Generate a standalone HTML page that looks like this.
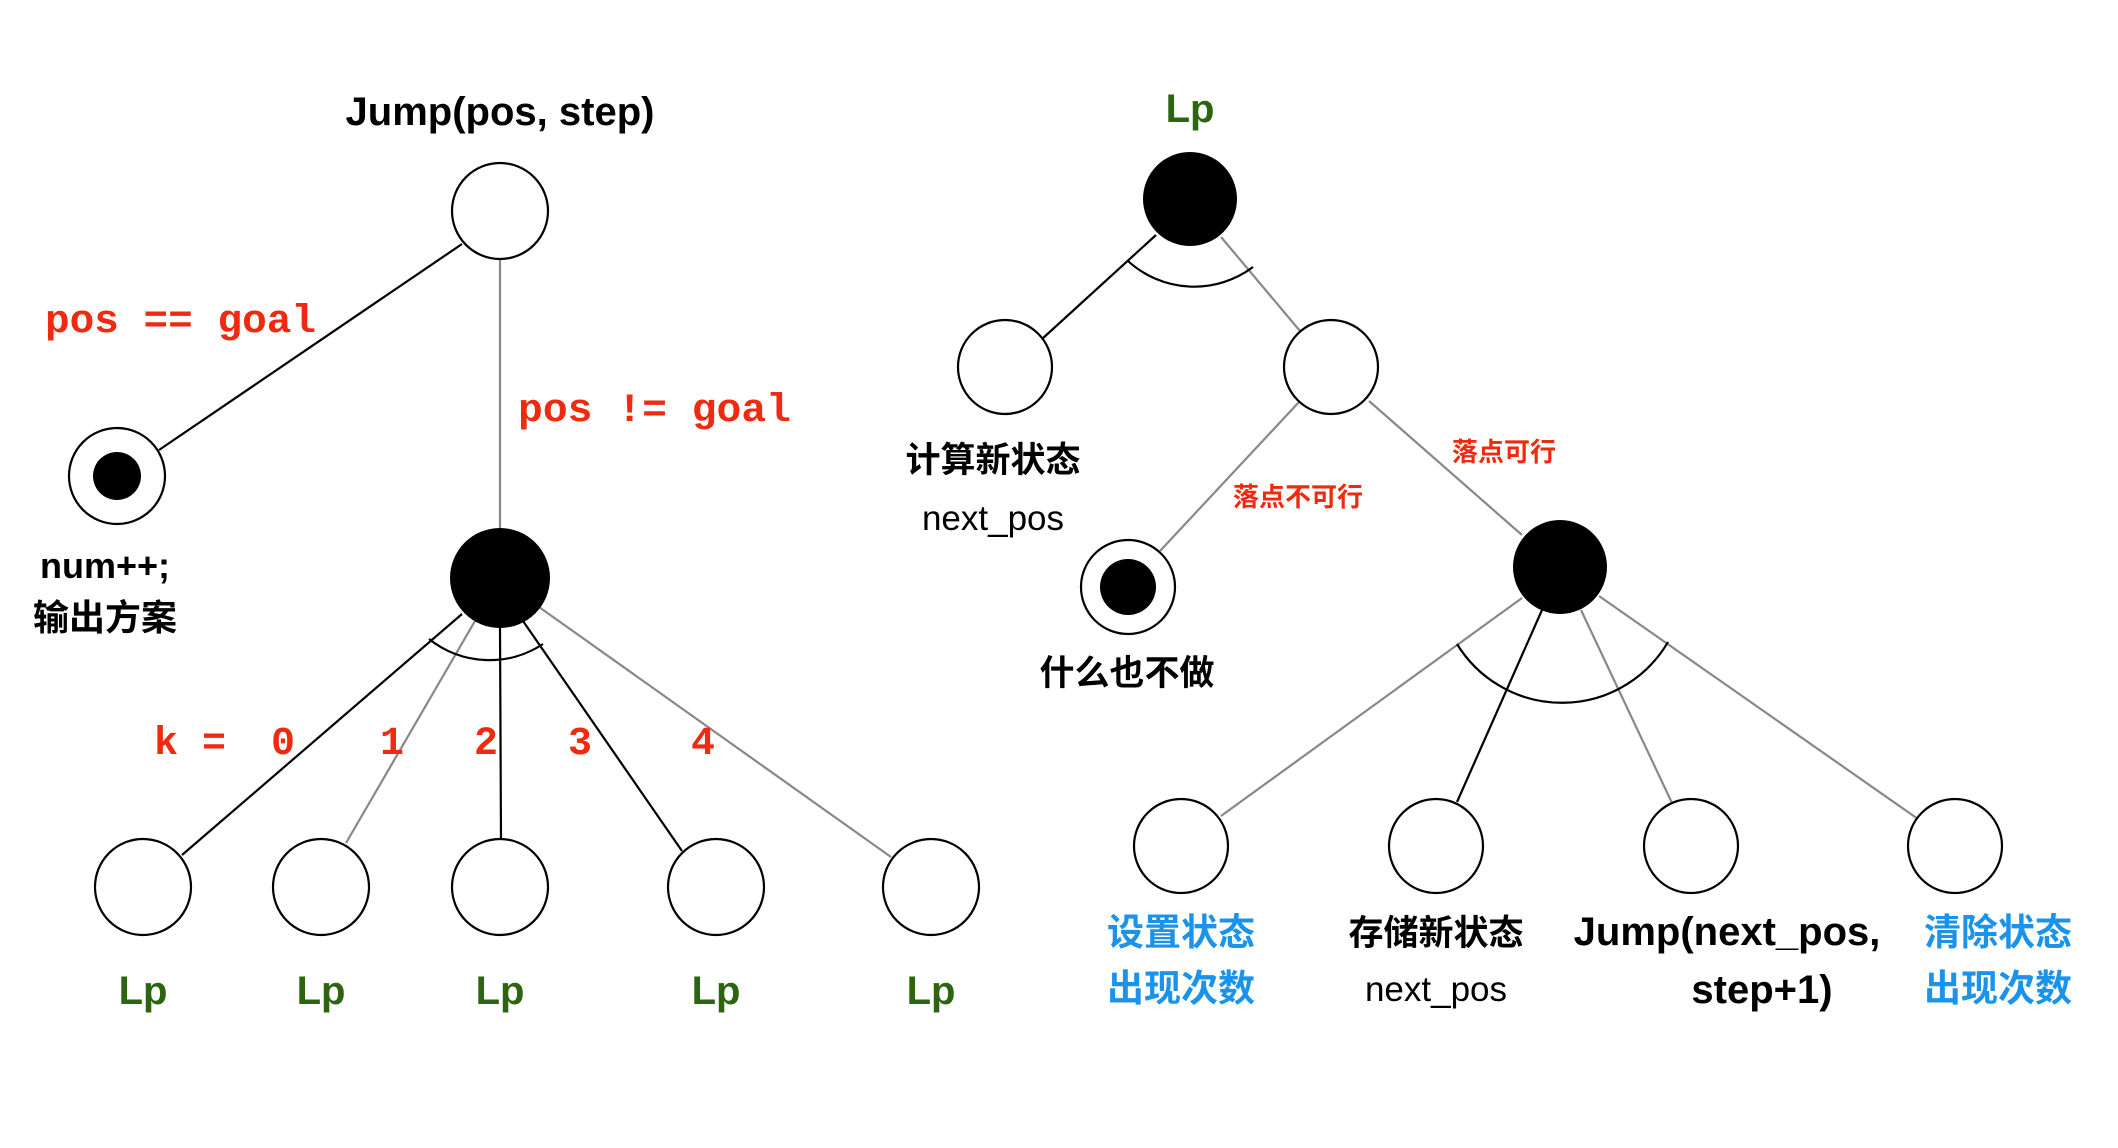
<!DOCTYPE html>
<html><head><meta charset="utf-8"><style>
html,body{margin:0;padding:0;background:#fff;}
svg{display:block}
.b{font-family:"Liberation Sans","Noto Sans CJK SC",sans-serif;font-weight:bold;}
.m{font-family:"Liberation Mono",monospace;font-weight:bold;fill:#ee2a10;}
.g{fill:#2c6410}
.bl{fill:#1b93ea}
</style></head><body>
<svg width="2118" height="1148" viewBox="0 0 2118 1148" xmlns="http://www.w3.org/2000/svg">
<g stroke-width="2.2" fill="none">
<!-- left tree lines -->
<line x1="462" y1="244" x2="159" y2="450" stroke="#000"/>
<line x1="500" y1="259" x2="500" y2="528" stroke="#888"/>
<line x1="462" y1="614" x2="182" y2="855" stroke="#000"/>
<line x1="475" y1="621" x2="346" y2="843" stroke="#888"/>
<line x1="500" y1="628" x2="501" y2="839" stroke="#000"/>
<line x1="523" y1="621" x2="682" y2="851" stroke="#000"/>
<line x1="539" y1="607" x2="891" y2="857" stroke="#888"/>
<path d="M429 639 A97 97 0 0 0 543 644" stroke="#000"/>
<!-- right tree lines -->
<line x1="1156" y1="235" x2="1042" y2="339" stroke="#000"/>
<line x1="1221" y1="237" x2="1300" y2="331" stroke="#888"/>
<path d="M1128 261 A98 98 0 0 0 1253 267" stroke="#000"/>
<line x1="1299" y1="402" x2="1160" y2="551" stroke="#888"/>
<line x1="1369" y1="401" x2="1522" y2="535" stroke="#888"/>
<line x1="1522" y1="598" x2="1221" y2="816" stroke="#888"/>
<line x1="1542" y1="610" x2="1457" y2="802" stroke="#000"/>
<line x1="1581" y1="610" x2="1672" y2="803" stroke="#888"/>
<line x1="1599" y1="596" x2="1918" y2="819" stroke="#888"/>
<path d="M1457 644 A123 123 0 0 0 1668 642" stroke="#000"/>
</g>
<g stroke="#000" stroke-width="2.2" fill="#fff">
<circle cx="500" cy="211" r="48"/>
<circle cx="117" cy="476" r="48"/>
<circle cx="143" cy="887" r="48"/>
<circle cx="321" cy="887" r="48"/>
<circle cx="500" cy="887" r="48"/>
<circle cx="716" cy="887" r="48"/>
<circle cx="931" cy="887" r="48"/>
<circle cx="1005" cy="367" r="47"/>
<circle cx="1331" cy="367" r="47"/>
<circle cx="1128" cy="587" r="47"/>
<circle cx="1181" cy="846" r="47"/>
<circle cx="1436" cy="846" r="47"/>
<circle cx="1691" cy="846" r="47"/>
<circle cx="1955" cy="846" r="47"/>
</g>
<g fill="#000">
<circle cx="117" cy="476" r="24"/>
<circle cx="500" cy="578" r="50"/>
<circle cx="1190" cy="199" r="47"/>
<circle cx="1128" cy="587" r="28"/>
<circle cx="1560" cy="567" r="47"/>
</g>
<g class="b" text-anchor="middle" font-size="40">
<text x="500" y="125">Jump(pos, step)</text>
<text x="105" y="578" font-size="36">num++;</text>
<text x="105" y="630" font-size="36">输出方案</text>
<text class="g" x="143" y="1004">Lp</text>
<text class="g" x="321" y="1004">Lp</text>
<text class="g" x="500" y="1004">Lp</text>
<text class="g" x="716" y="1004">Lp</text>
<text class="g" x="931" y="1004">Lp</text>
<text class="g" x="1190" y="122">Lp</text>
<text x="993" y="472" font-size="35">计算新状态</text>
<text x="993" y="530" font-size="35" font-weight="normal">next_pos</text>
<text x="1127" y="685" font-size="35">什么也不做</text>
<text fill="#ee2a10" x="1298" y="506" font-size="26">落点不可行</text>
<text fill="#ee2a10" x="1504" y="461" font-size="26">落点可行</text>
<text class="bl" x="1181" y="945" font-size="37">设置状态</text>
<text class="bl" x="1181" y="1001" font-size="37">出现次数</text>
<text x="1436" y="945" font-size="35">存储新状态</text>
<text x="1436" y="1001" font-size="35" font-weight="normal">next_pos</text>
<text x="1727" y="945" font-size="40">Jump(next_pos,</text>
<text x="1762" y="1003" font-size="40">step+1)</text>
<text class="bl" x="1998" y="945" font-size="37">清除状态</text>
<text class="bl" x="1998" y="1001" font-size="37">出现次数</text>
</g>
<g class="m" font-size="40">
<text x="45" y="332" textLength="271" lengthAdjust="spacingAndGlyphs">pos == goal</text>
<text x="518" y="421" textLength="273" lengthAdjust="spacingAndGlyphs">pos != goal</text>
<g text-anchor="middle">
<text x="190" y="754">k =</text>
<text x="283" y="754">0</text>
<text x="392" y="754">1</text>
<text x="486" y="754">2</text>
<text x="580" y="754">3</text>
<text x="703" y="754">4</text>
</g>
</g>
</svg>
</body></html>
